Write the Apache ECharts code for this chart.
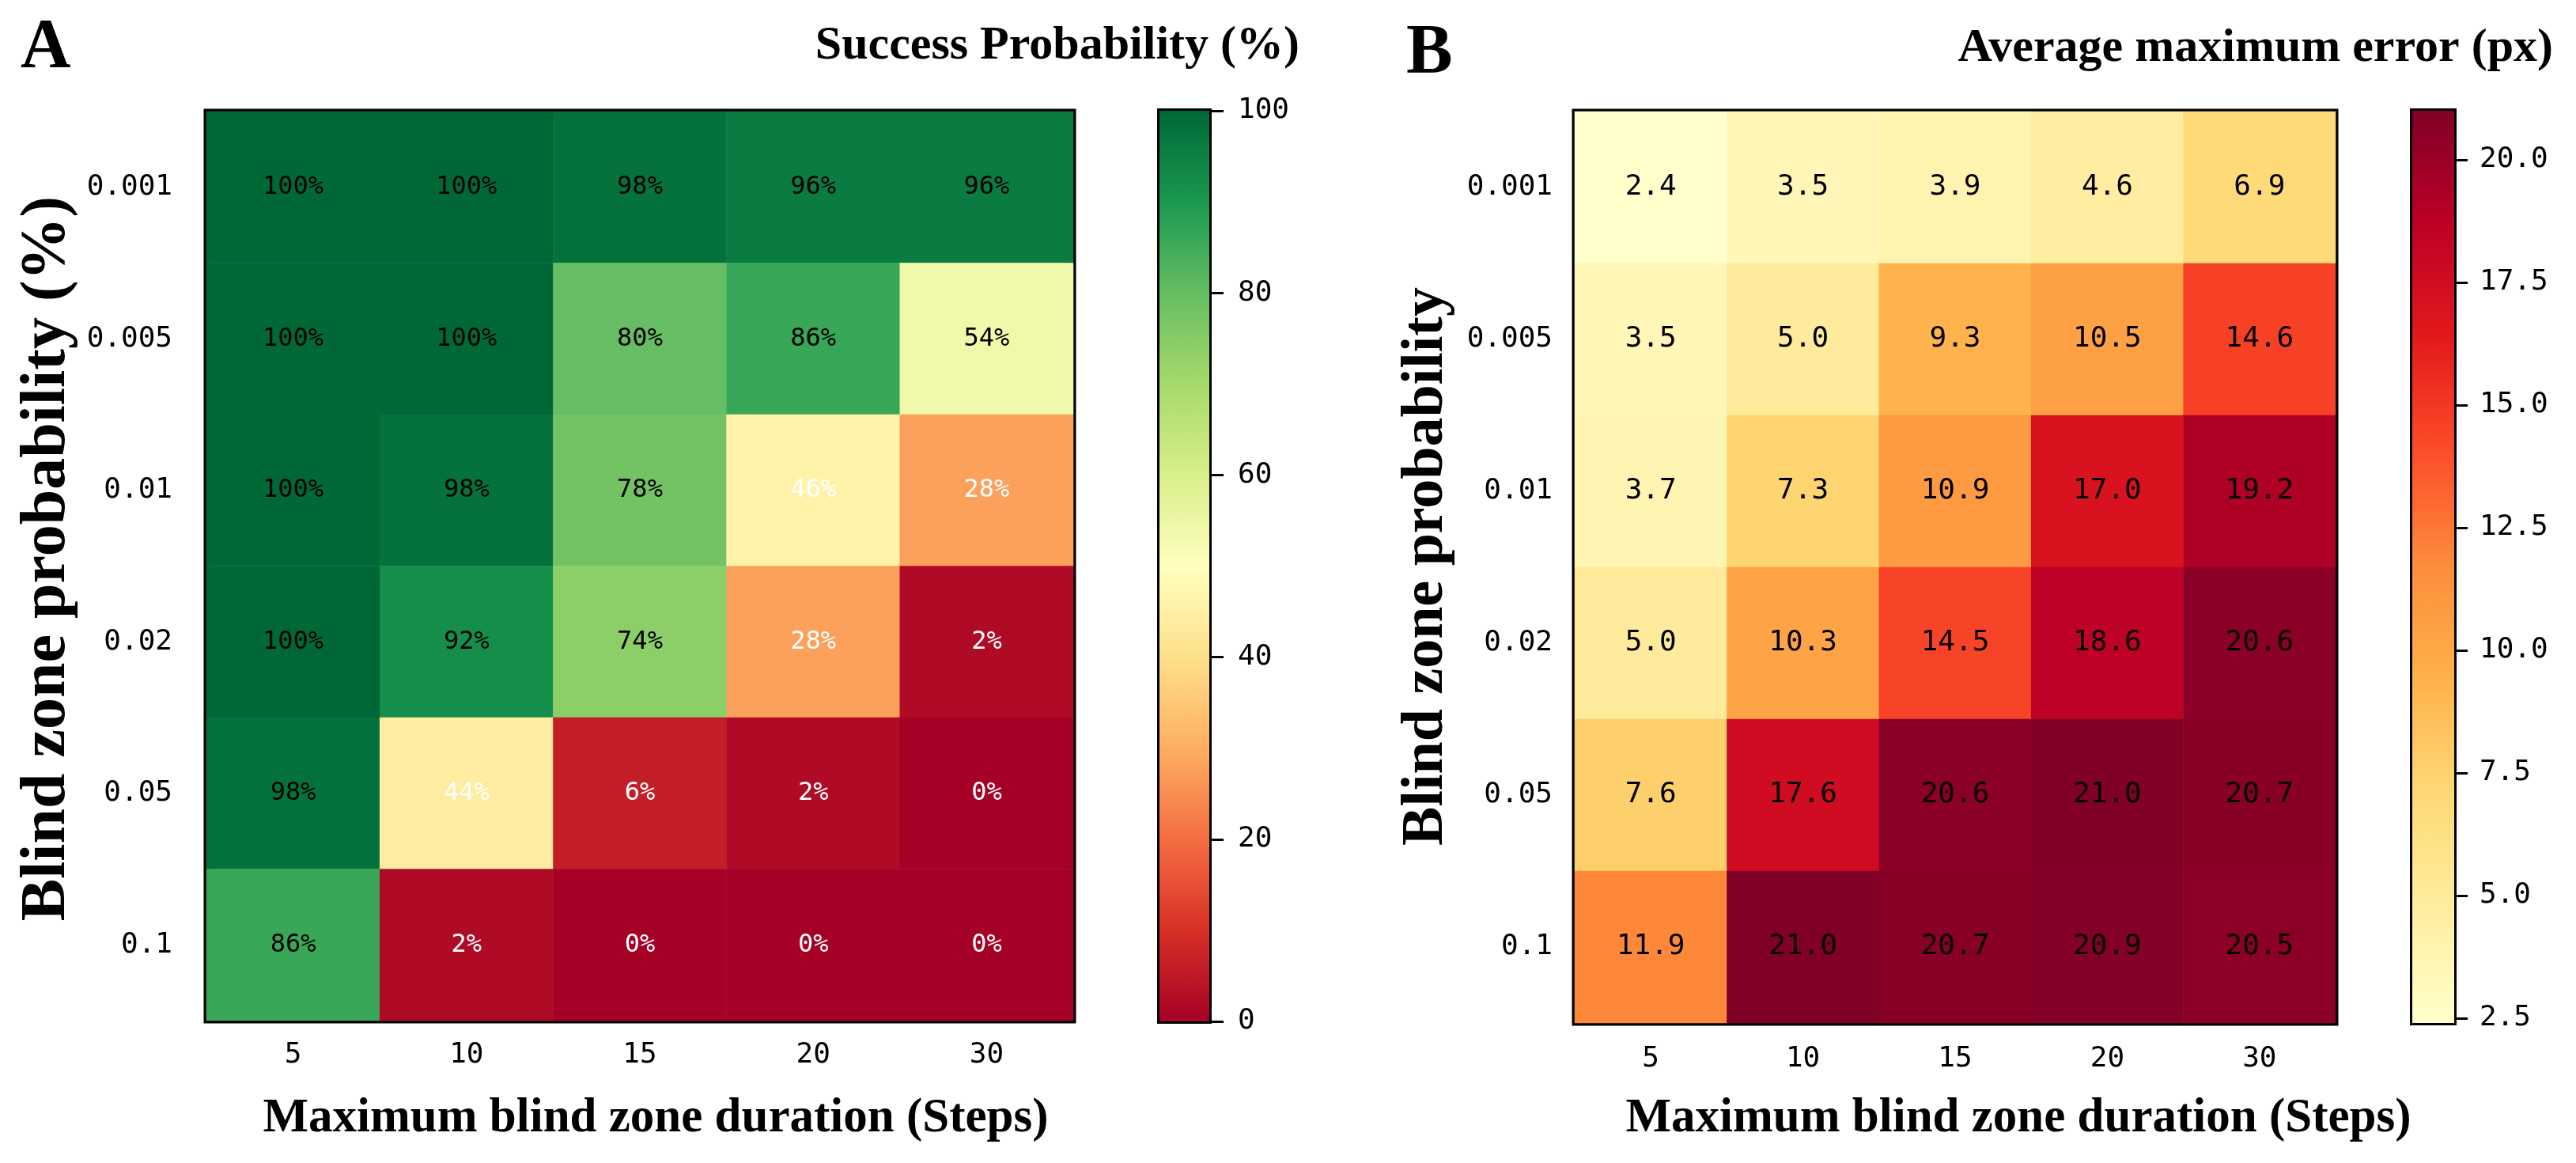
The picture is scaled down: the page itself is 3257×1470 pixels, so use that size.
<!DOCTYPE html>
<html>
<head>
<meta charset="utf-8">
<script src="https://cdn.jsdelivr.net/npm/echarts@6/dist/echarts.min.js"></script>
<style>
  html, body { margin: 0; padding: 0; background: #fff; }
  #chart { width: 3257px; height: 1470px; }
</style>
</head>
<body>
<div id="chart"></div>
<script>
// axes
var steps = ['5', '10', '15', '20', '30'];
var probs = ['0.001', '0.005', '0.01', '0.02', '0.05', '0.1'];

// rows follow probs (top to bottom), columns follow steps
var success = [
  [100, 100, 98, 96, 96],
  [100, 100, 80, 86, 54],
  [100, 98, 78, 46, 28],
  [100, 92, 74, 28, 2],
  [98, 44, 6, 2, 0],
  [86, 2, 0, 0, 0]
];
var maxError = [
  [2.4, 3.5, 3.9, 4.6, 6.9],
  [3.5, 5.0, 9.3, 10.5, 14.6],
  [3.7, 7.3, 10.9, 17.0, 19.2],
  [5.0, 10.3, 14.5, 18.6, 20.6],
  [7.6, 17.6, 20.6, 21.0, 20.7],
  [11.9, 21.0, 20.7, 20.9, 20.5]
];

// colorbar ranges and ticks
var successRange = [0, 100];
var errorRange = [2.4, 21.0];
var successTicks = [0, 20, 40, 60, 80, 100];
var errorTicks = [2.5, 5, 7.5, 10, 12.5, 15, 17.5, 20];

var rdYlGn = ['#a50026', '#d73027', '#f46d43', '#fdae61', '#fee08b', '#ffffbf',
  '#d9ef8b', '#a6d96a', '#66bd63', '#1a9850', '#006837'];
var ylOrRd = ['#ffffcc', '#ffeda0', '#fed976', '#feb24c', '#fd8d3c', '#fc4e2a',
  '#e31a1c', '#bd0026', '#800026'];

var serif = '"Liberation Serif", "Times New Roman", serif';
var mono = '"DejaVu Sans Mono", monospace';

function cells(rows, textColor) {
  var out = [];
  rows.forEach(function (row, y) {
    row.forEach(function (v, x) {
      out.push({ value: [x, y, v], label: { color: textColor(v) } });
    });
  });
  return out;
}

function stops(colors) {
  return colors.map(function (c, i) {
    return { offset: i / (colors.length - 1), color: c };
  });
}

function catX(grid, margin, tickLen) {
  return {
    gridIndex: grid, type: 'category', data: steps,
    axisLine: { show: false },
    axisTick: { alignWithLabel: true, length: tickLen, lineStyle: { color: '#000', width: 3 } },
    axisLabel: { color: '#000', fontFamily: mono, fontSize: 36, margin: margin },
    splitLine: { show: false }
  };
}
function catY(grid, margin, tickLen) {
  return {
    gridIndex: grid, type: 'category', data: probs, inverse: true,
    axisLine: { show: false },
    axisTick: { alignWithLabel: true, length: tickLen, lineStyle: { color: '#000', width: 3 } },
    axisLabel: { color: '#000', fontFamily: mono, fontSize: 36, margin: margin },
    splitLine: { show: false }
  };
}
function barAxisX(grid) {
  return { gridIndex: grid, type: 'category', data: ['cb'], show: false };
}

var chart = echarts.init(document.getElementById('chart'));

var option = {
  backgroundColor: '#fff',
  animation: false,
  grid: [
    { left: 261, top: 141, width: 1096, height: 1149, show: true, borderColor: '#000', borderWidth: 7 },
    { left: 1466, top: 140, width: 63, height: 1151, show: true, borderColor: '#000', borderWidth: 6 },
    { left: 1991, top: 141, width: 962, height: 1152, show: true, borderColor: '#000', borderWidth: 7 },
    { left: 3050, top: 140, width: 53, height: 1153, show: true, borderColor: '#000', borderWidth: 6 }
  ],
  xAxis: [
    catX(0, 26, 17),
    barAxisX(1),
    catX(2, 28, 17),
    barAxisX(3)
  ],
  yAxis: [
    catY(0, 43, 19),
    {
      gridIndex: 1, type: 'value', position: 'right',
      min: successRange[0], max: successRange[1], interval: 20,
      axisLine: { show: false },
      axisTick: { show: true, length: 18, lineStyle: { color: '#000', width: 3 } },
      axisLabel: { color: '#000', fontFamily: mono, fontSize: 36, margin: 36 },
      splitLine: { show: false }
    },
    catY(2, 28, 18),
    {
      gridIndex: 3, type: 'value', position: 'right',
      min: errorRange[0], max: errorRange[1],
      axisLine: { show: false },
      axisTick: { show: true, length: 17, customValues: errorTicks, lineStyle: { color: '#000', width: 3 } },
      axisLabel: {
        color: '#000', fontFamily: mono, fontSize: 36, margin: 32,
        customValues: errorTicks,
        formatter: function (v) { return v.toFixed(1); }
      },
      splitLine: { show: false }
    }
  ],
  visualMap: [
    { type: 'continuous', show: false, seriesIndex: 0, min: successRange[0], max: successRange[1], inRange: { color: rdYlGn } },
    { type: 'continuous', show: false, seriesIndex: 2, min: errorRange[0], max: errorRange[1], inRange: { color: ylOrRd } }
  ],
  series: [
    {
      type: 'heatmap', xAxisIndex: 0, yAxisIndex: 0,
      data: cells(success, function (v) { return v < 50 ? '#fff' : '#000'; }),
      label: {
        show: true, fontFamily: mono, fontSize: 32,
        formatter: function (p) { return p.value[2] + '%'; }
      },
      emphasis: { disabled: true }
    },
    {
      type: 'bar', xAxisIndex: 1, yAxisIndex: 1, silent: true,
      data: [successRange[1]], barWidth: '100%',
      itemStyle: { color: new echarts.graphic.LinearGradient(0, 1, 0, 0, stops(rdYlGn)) }
    },
    {
      type: 'heatmap', xAxisIndex: 2, yAxisIndex: 2,
      data: cells(maxError, function () { return '#000'; }),
      label: {
        show: true, fontFamily: mono, fontSize: 36,
        formatter: function (p) { return p.value[2].toFixed(1); }
      },
      emphasis: { disabled: true }
    },
    {
      type: 'bar', xAxisIndex: 3, yAxisIndex: 3, silent: true,
      data: [errorRange[1]], barWidth: '100%',
      itemStyle: { color: new echarts.graphic.LinearGradient(0, 1, 0, 0, stops(ylOrRd)) }
    }
  ],
  graphic: [
    { type: 'text', x: 26, y: 61, style: { text: 'A', font: 'bold 88px ' + serif, fill: '#000', textAlign: 'left', textVerticalAlign: 'middle' } },
    { type: 'text', x: 1778, y: 68, style: { text: 'B', font: 'bold 88px ' + serif, fill: '#000', textAlign: 'left', textVerticalAlign: 'middle' } },
    { type: 'text', x: 1643, y: 58, style: { text: 'Success Probability (%)', font: 'bold 60px ' + serif, fill: '#000', textAlign: 'right', textVerticalAlign: 'middle' } },
    { type: 'text', x: 3228, y: 61, style: { text: 'Average maximum error (px)', font: 'bold 60px ' + serif, fill: '#000', textAlign: 'right', textVerticalAlign: 'middle' } },
    { type: 'text', x: 829, y: 1414, style: { text: 'Maximum blind zone duration (Steps)', font: 'bold 61px ' + serif, fill: '#000', textAlign: 'center', textVerticalAlign: 'middle' } },
    { type: 'text', x: 2552, y: 1414, style: { text: 'Maximum blind zone duration (Steps)', font: 'bold 61px ' + serif, fill: '#000', textAlign: 'center', textVerticalAlign: 'middle' } },
    { type: 'text', x: 60, y: 706, rotation: Math.PI / 2, style: { text: 'Blind zone probability (%)', font: 'bold 80px ' + serif, fill: '#000', textAlign: 'center', textVerticalAlign: 'middle' } },
    { type: 'text', x: 1804, y: 716, rotation: Math.PI / 2, style: { text: 'Blind zone probability', font: 'bold 74px ' + serif, fill: '#000', textAlign: 'center', textVerticalAlign: 'middle' } }
  ]
};

chart.setOption(option);
</script>
</body>
</html>
